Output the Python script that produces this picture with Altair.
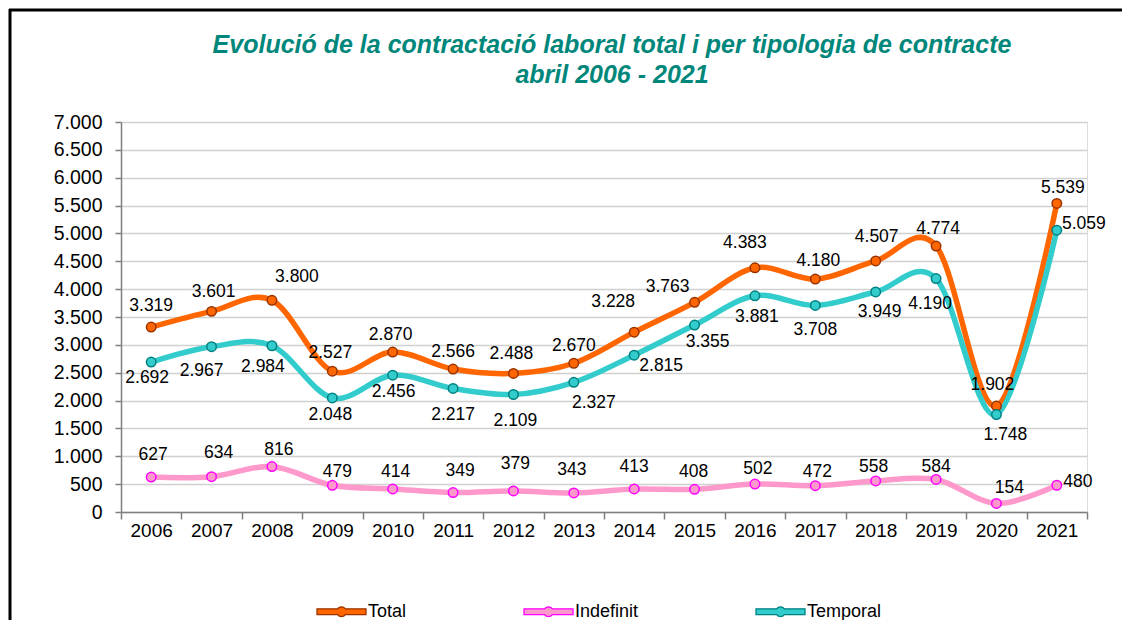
import altair as alt
import pandas as pd

YEARS = [str(y) for y in range(2006, 2022)]
TOTAL = [3319, 3601, 3800, 2527, 2870, 2566, 2488, 2670, 3228, 3763, 4383, 4180, 4507, 4774, 1902, 5539]
INDEFINIT = [627, 634, 816, 479, 414, 349, 379, 343, 413, 408, 502, 472, 558, 584, 154, 480]
TEMPORAL = [2692, 2967, 2984, 2048, 2456, 2217, 2109, 2327, 2815, 3355, 3881, 3708, 3949, 4190, 1748, 5059]

SERIES = ["Total", "Indefinit", "Temporal"]
LINE_COLORS = ["#FF6600", "#FF99CC", "#33CCCC"]
MARKER_FILLS = ["#FF6600", "#FF99CC", "#33CCCC"]
MARKER_EDGES = ["#993300", "#FF00FF", "#008080"]

# data-label offsets in pixels (label placement as in the reference)
TOTAL_DX = [0, 2, 25, -2, -2, 0, -2, 0, -21, -27, -10, 3, 1, 2, -4, 6]
TOTAL_DY = [-21, -19, -23, -18, -17, -17, -19, -17, -30, -15, -25, -18, -24, -17, -21, -15]
TEMP_DX = [-4, -10, -9, -2, 1, 0, 2, 20, 27, 13, 2, 0, 4, -6, 9, 27]
TEMP_DY = [16, 24, 21, 17, 17, 27, 27, 21, 11, 17, 21, 25, 20, 25, 20, -6]
INDEF_DX = [2, 7, 7, 5, 3, 7, 2, -2, 0, -1, 3, 2, -2, 0, 13, 21]
INDEF_DY = [-22, -24, -17, -13, -17, -22, -27, -23, -22, -17, -15, -14, -14, -12, -15, -3]

rows = []
for name, vals, dxs, dys in [
    ("Total", TOTAL, TOTAL_DX, TOTAL_DY),
    ("Indefinit", INDEFINIT, INDEF_DX, INDEF_DY),
    ("Temporal", TEMPORAL, TEMP_DX, TEMP_DY),
]:
    for y, v, dx, dy in zip(YEARS, vals, dxs, dys):
        rows.append({"year": y, "series": name, "value": v, "dx": dx, "dy": dy})
df = pd.DataFrame(rows)

FONT = "Liberation Sans"
LEGEND_SYMBOL = ("M-1,-0.12L-0.16,-0.12A0.2,0.2 0 0,1 0.16,-0.12L1,-0.12L1,0.12"
                 "L0.16,0.12A0.2,0.2 0 0,1 -0.16,0.12L-1,0.12Z")

x_enc = alt.X(
    "year:N",
    sort=YEARS,
    scale=alt.Scale(type="band", paddingInner=0, paddingOuter=0),
    axis=alt.Axis(
        title=None, labelAngle=0, tickBand="extent", grid=False,
        domainColor="#7f7f7f", tickColor="#7f7f7f", tickSize=7, domainWidth=1.5, tickWidth=1.5,
        labelFont=FONT, labelFontSize=19, labelColor="#000000", labelPadding=2,
    ),
)
y_enc = alt.Y(
    "value:Q",
    scale=alt.Scale(domain=[0, 7000], nice=False),
    axis=alt.Axis(
        title=None, values=list(range(0, 7001, 500)),
        labelExpr="replace(format(datum.value, ','), ',', '.')",
        gridColor="#d0d0d0", gridWidth=1.5, domainColor="#7f7f7f", domainWidth=1.5,
        tickColor="#7f7f7f", tickSize=6, tickWidth=1.5,
        labelFont=FONT, labelFontSize=19.5, labelColor="#000000", labelPadding=13,
    ),
)

base = alt.Chart(df)

lines = base.mark_line(interpolate="cardinal", strokeWidth=5.5, strokeCap="round").encode(
    x=x_enc, y=y_enc,
    color=alt.Color("series:N", scale=alt.Scale(domain=SERIES, range=LINE_COLORS), legend=None),
    detail="series:N",
)

legend = alt.Legend(
    title=None, orient="none", direction="horizontal", legendX=195, legendY=464,
    symbolType=LEGEND_SYMBOL, symbolSize=2401, symbolStrokeWidth=1.3,
    labelFont=FONT, labelFontSize=18, labelColor="#000000", labelOffset=1,
    columnPadding=114, padding=0,
)

points = base.mark_point(filled=True, size=90, strokeWidth=1.5, opacity=1).encode(
    x=x_enc, y=y_enc,
    fill=alt.Fill("series:N", scale=alt.Scale(domain=SERIES, range=MARKER_FILLS), legend=legend),
    stroke=alt.Stroke("series:N", scale=alt.Scale(domain=SERIES, range=MARKER_EDGES), legend=legend),
)

labels = base.transform_calculate(
    label="replace(format(datum.value, ','), ',', '.')"
).mark_text(
    font=FONT, fontSize=17.5, color="#000000", align="center", baseline="middle",
    dx=alt.ExprRef(expr="datum.dx"), dy=alt.ExprRef(expr="datum.dy"),
).encode(x=x_enc, y=y_enc, text="label:N")

frame_data = alt.Data(values=[{"k": 1}])
frame_left = alt.Chart(frame_data).mark_rule(color="#000000", strokeWidth=3).encode(
    x=alt.value(-111), y=alt.value(-113), y2=alt.value(510)
)
frame_top = alt.Chart(frame_data).mark_rule(color="#000000", strokeWidth=3).encode(
    y=alt.value(-112), x=alt.value(-112), x2=alt.value(1010)
)

chart = alt.layer(lines, points, labels, frame_left, frame_top).properties(
    width=966, height=390,
    padding={"left": 113, "top": 114, "right": 35, "bottom": 108},
    autosize=alt.AutoSizeParams(type="none"),
    title=alt.TitleParams(
        text=["Evolució de la contractació laboral total i per tipologia de contracte",
              "abril 2006 - 2021"],
        font=FONT, fontSize=25, fontStyle="italic", fontWeight="bold",
        color="#00877B", anchor="middle", frame="group", offset=-80, lineHeight=30, dx=8,
    ),
).resolve_scale(color="independent").configure_view(
    stroke="#d0d0d0", strokeWidth=1.5
).configure(background="#ffffff")

chart.save("out.html", embed_options={"renderer": "svg", "actions": False})
